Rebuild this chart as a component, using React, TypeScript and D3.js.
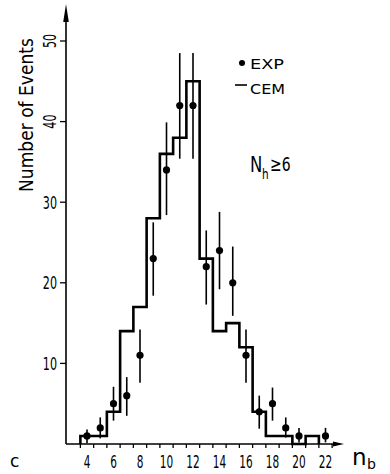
import * as d3 from "d3"

// CEM histogram, bins centred on n_b
const cemBins = [4, 5, 6, 7, 8, 9, 10, 11, 12, 13, 14, 15, 16, 17, 18, 19, 20, 21]
const cemValues = [1, 1, 4, 14, 17, 28, 36, 38, 45, 23, 14, 15, 12, 4, 1, 1, 0, 1]

// EXP points with error bars
const expN = [4, 5, 6, 7, 8, 9, 10, 11, 12, 13, 14, 15, 16, 17, 18, 19, 20, 22]
const expValues = [1, 2, 5, 6, 11, 23, 34, 42, 42, 22, 24, 20, 11, 4, 5, 2, 1, 1]
const expErrLow = [0.9, 1.3, 2.1, 2.5, 3.4, 4.6, 5.6, 6.6, 6.6, 4.7, 4.8, 4.1, 3.4, 2.1, 2.1, 1.2, 0.8, 0.8]
const expErrHigh = [0.8, 1.3, 2.1, 2.3, 3.2, 4.5, 5.9, 6.5, 6.5, 4.5, 4.8, 4.5, 3.2, 2.0, 2.0, 1.3, 1.0, 1.0]

const yTicks = [10, 20, 30, 40, 50]
const xLabels = [4, 6, 8, 10, 12, 14, 16, 18, 20, 22]
const xTickEdges = d3.range(3.5, 23, 1)

const font = "'DejaVu Sans', sans-serif"

export default function App() {
  const x = d3.scaleLinear().domain([4, 22]).range([87, 325.5])
  const y = d3.scaleLinear().domain([0, 50]).range([444, 41])
  const x0 = 66

  // step outline of the histogram
  const pts: [number, number][] = [[3.5, 0]]
  cemBins.forEach((n, i) => {
    pts.push([n - 0.5, cemValues[i]])
    pts.push([n + 0.5, cemValues[i]])
  })
  pts.push([21.5, 0])
  const histLine = d3
    .line<[number, number]>()
    .x((d) => x(d[0]))
    .y((d) => y(d[1]))

  const condensed = (tx: number, ty: number, sx: number, rot = 0) =>
    `translate(${tx},${ty}) rotate(${rot}) scale(${sx},1)`

  return (
    <svg width={390} height={474} style={{ position: "absolute", left: 0, top: 0, background: "#fff" }}>
      {/* axes */}
      <line x1={x0} y1={y(0)} x2={x0} y2={12} stroke="#000" strokeWidth={1.6} />
      <path d={`M${x0},4 L${x0 - 2.8},22 L${x0 + 2.8},22 Z`} fill="#000" />
      <line x1={x0} y1={y(0)} x2={336} y2={y(0)} stroke="#000" strokeWidth={1.6} />
      <path d={`M344,${y(0)} L333,${y(0) - 2.6} L333,${y(0) + 2.6} Z`} fill="#000" />

      {xTickEdges.map((t) => (
        <line key={t} x1={x(t)} x2={x(t)} y1={y(0)} y2={y(0) + 4} stroke="#000" strokeWidth={1.3} />
      ))}
      {yTicks.map((t) => (
        <line key={t} x1={x0 - 6} x2={x0} y1={y(t)} y2={y(t)} stroke="#000" strokeWidth={1.3} />
      ))}

      {/* y tick labels */}
      {yTicks.map((t) =>
        t >= 40 ? (
          <text key={t} transform={condensed(56, y(t), 0.62, -90)} fontFamily={font} fontSize={18} textAnchor="middle">
            {t}
          </text>
        ) : (
          <text key={t} transform={condensed(57, y(t) + 6.5, 0.62)} fontFamily={font} fontSize={18} textAnchor="end">
            {t}
          </text>
        )
      )}

      {/* x tick labels */}
      {xLabels.map((t) => (
        <text key={t} transform={condensed(x(t), 468, 0.62)} fontFamily={font} fontSize={17} textAnchor="middle">
          {t}
        </text>
      ))}

      {/* axis titles */}
      <text transform={condensed(33, 115, 0.9, -90)} fontFamily={font} fontSize={19} textAnchor="middle">
        Number of Events
      </text>
      <text x={352} y={465} fontFamily={font} fontSize={23}>
        n
      </text>
      <text x={367} y={469} fontFamily={font} fontSize={14}>
        b
      </text>
      <text x={10} y={467} fontFamily={font} fontSize={17}>
        c
      </text>

      {/* histogram */}
      <path d={histLine(pts) ?? ""} fill="none" stroke="#000" strokeWidth={2.6} strokeLinejoin="miter" />

      {/* data points */}
      {expN.map((n, i) => (
        <g key={n}>
          <line
            x1={x(n)}
            x2={x(n)}
            y1={y(expValues[i] - expErrLow[i])}
            y2={y(expValues[i] + expErrHigh[i])}
            stroke="#000"
            strokeWidth={1.6}
          />
          <circle cx={x(n)} cy={y(expValues[i])} r={3.6} fill="#000" />
        </g>
      ))}

      {/* legend */}
      <circle cx={242} cy={63} r={3} fill="#000" />
      <text x={250} y={69} fontFamily={font} fontSize={14} textLength={34} lengthAdjust="spacingAndGlyphs">
        EXP
      </text>
      <line x1={235} x2={247} y1={85} y2={85} stroke="#000" strokeWidth={1.6} />
      <text x={250} y={94} fontFamily={font} fontSize={14} textLength={35} lengthAdjust="spacingAndGlyphs">
        CEM
      </text>

      <text transform={condensed(250, 172, 0.75)} fontFamily={font} fontSize={22}>
        N
      </text>
      <text transform={condensed(262, 179, 0.75)} fontFamily={font} fontSize={14}>
        h
      </text>
      <text transform={condensed(270, 171, 0.7)} fontFamily={font} fontSize={20}>
        ≥6
      </text>
    </svg>
  )
}
